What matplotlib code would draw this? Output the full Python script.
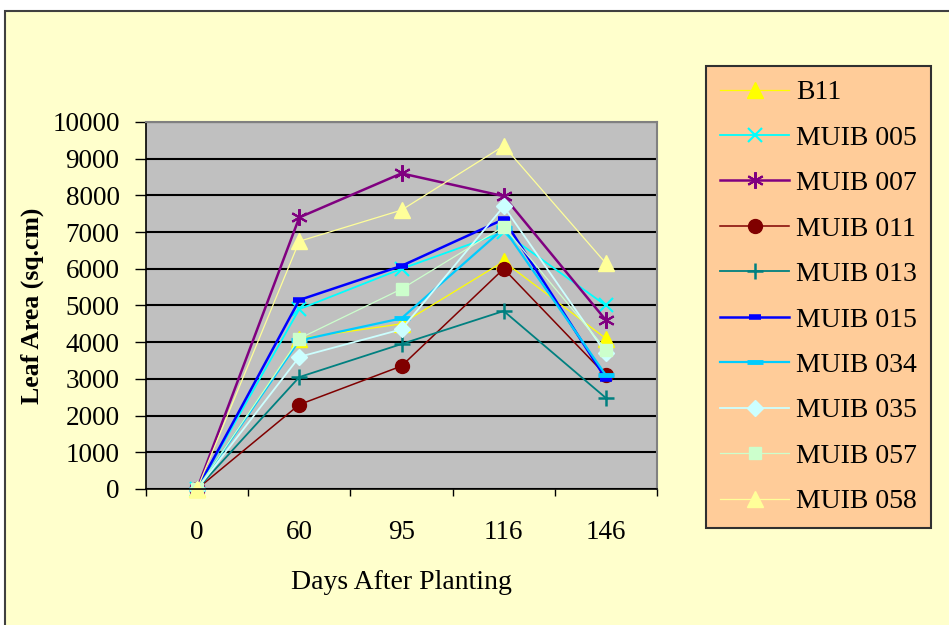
import matplotlib.pyplot as plt
from matplotlib.patches import Rectangle

# leaf area (sq.cm) at each sampling day
days = ["0", "60", "95", "116", "146"]

b11     = [0, 4100, 4500, 6200, 4100]
muib005 = [0, 4900, 6000, 7000, 5000]
muib007 = [0, 7400, 8600, 7980, 4600]
muib011 = [0, 2300, 3350, 6000, 3100]
muib013 = [0, 3050, 3950, 4850, 2480]
muib015 = [0, 5150, 6080, 7350, 3000]
muib034 = [0, 4050, 4650, 7100, 3100]
muib035 = [0, 3600, 4350, 7700, 3700]
muib057 = [0, 4100, 5450, 7150, 3800]
muib058 = [0, 6750, 7600, 9350, 6150]

names = ["B11", "MUIB 005", "MUIB 007", "MUIB 011", "MUIB 013",
         "MUIB 015", "MUIB 034", "MUIB 035", "MUIB 057", "MUIB 058"]
series = [b11, muib005, muib007, muib011, muib013,
          muib015, muib034, muib035, muib057, muib058]

# colour, line width, marker, marker size, marker edge width
styles = [
    ("#FFFF00", 0.9, "^", 11, 1),
    ("#00FFFF", 1.3, "x", 10, 1.5),
    ("#800080", 1.8, (6, 2, 0), 12, 1.5),
    ("#800000", 1.1, "o", 10, 1),
    ("#008080", 1.3, "+", 12, 1.8),
    ("#0000FF", 1.8, "_", 9, 4),
    ("#00CCFF", 1.6, "_", 12, 3.5),
    ("#CCFFFF", 1.3, "D", 8, 1),
    ("#CCFFCC", 0.9, "s", 9, 1),
    ("#FFFF99", 0.9, "^", 12, 1),
]

plt.rcParams["font.family"] = ["Liberation Serif", "DejaVu Serif"]

fig = plt.figure(figsize=(9.49, 6.25), dpi=100, facecolor="white")
fig.add_artist(Rectangle((5 / 949, -0.1), 1.2, 1.1 - 11 / 625,
                         transform=fig.transFigure, facecolor="#FFFFCC",
                         edgecolor="#404040", linewidth=1.5, zorder=-10))

ax = fig.add_axes([146 / 949, 1 - 489 / 625, 511 / 949, 367 / 625])
ax.set_facecolor("#C0C0C0")

x = range(len(days))
for name, ys, (c, lw, m, ms, mew) in zip(names, series, styles):
    ax.plot(x, ys, color=c, lw=lw, marker=m, markersize=ms,
            markeredgewidth=mew, markerfacecolor=c, markeredgecolor=c,
            label=name, clip_on=False)

ax.set_ylim(0, 10000)
ax.set_yticks(range(0, 10001, 1000))
ax.set_xlim(-0.5, len(days) - 0.5)
ax.set_xticks([i - 0.5 for i in range(len(days) + 1)])
ax.set_xticklabels([])
ax.set_xticks(list(x), minor=True)
ax.set_xticklabels(days, minor=True)
ax.tick_params(axis="x", which="major", direction="out", length=5, width=1)
ax.tick_params(axis="x", which="minor", length=0, pad=22, labelsize=19.5)
ax.tick_params(axis="y", direction="out", length=8, width=1, pad=11,
               labelsize=19.5)

ax.grid(axis="y", color="black", linewidth=1.5)
ax.set_axisbelow(True)
for s in ("left", "bottom"):
    ax.spines[s].set_color("black")
    ax.spines[s].set_linewidth(1.2)
for s in ("top", "right"):
    ax.spines[s].set_color("#808080")
    ax.spines[s].set_linewidth(1.5)

ax.set_xlabel("Days After Planting", fontsize=20)
ax.xaxis.set_label_coords(0.5, -0.256)
ax.xaxis.label.set_va("center")
ax.set_ylabel("Leaf Area (sq.cm)", fontsize=18.5, fontweight="bold")
ax.yaxis.set_label_coords(-0.223, 0.5)
ax.yaxis.label.set_va("center")

leg = fig.legend(loc="upper left", bbox_to_anchor=(706 / 949, 1 - 66 / 625),
                 borderaxespad=0, fontsize=20, handlelength=2.5,
                 handletextpad=0.25, labelspacing=0.72, borderpad=0.5,
                 fancybox=False, frameon=True)
leg.get_frame().set_facecolor("#FFCC99")
leg.get_frame().set_edgecolor("#303030")
leg.get_frame().set_linewidth(1.5)
leg.get_frame().set_alpha(1)

fig.savefig("out.png", dpi=100)
